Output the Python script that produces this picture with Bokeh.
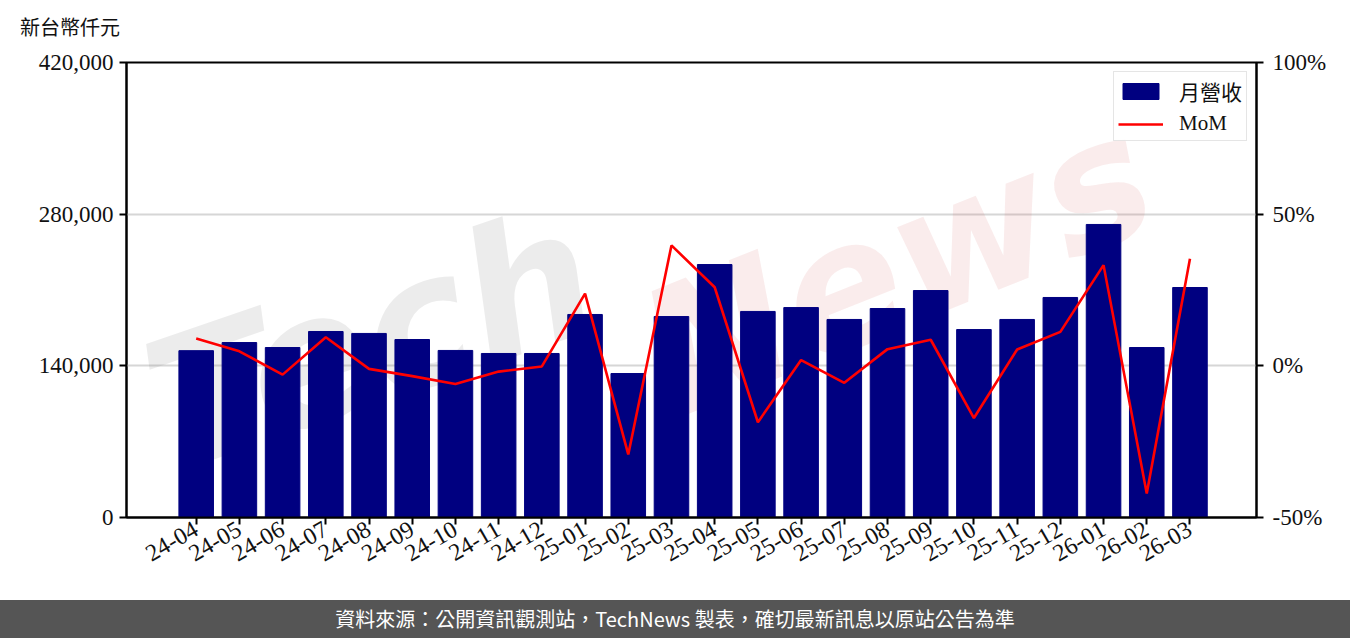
import math
from bokeh.plotting import figure
from bokeh.models import (ColumnDataSource, Range1d, LinearAxis, FixedTicker,
                          NumeralTickFormatter, PrintfTickFormatter, Label,
                          Legend, LegendItem, Div)
from bokeh.layouts import column
from bokeh.embed import file_html
from bokeh.resources import INLINE

months = ["24-04", "24-05", "24-06", "24-07", "24-08", "24-09", "24-10", "24-11",
          "24-12", "25-01", "25-02", "25-03", "25-04", "25-05", "25-06", "25-07",
          "25-08", "25-09", "25-10", "25-11", "25-12", "26-01", "26-02", "26-03"]
revenue = [154000, 161500, 156900, 171700, 169900, 164300, 154200, 151400,
           151400, 187400, 132900, 185500, 233500, 190200, 193800, 182800,
           192900, 209500, 173500, 182800, 203100, 270500, 156900, 212300]
mom = [9.0, 4.8, -2.9, 9.4, -1.0, -3.4, -6.0, -1.9,
       -0.2, 23.8, -29.2, 39.7, 25.9, -18.6, 1.9, -5.6,
       5.5, 8.6, -17.2, 5.4, 11.2, 33.2, -42.1, 35.3]
left_ticks = [0, 140000, 280000, 420000]
right_ticks = [-50, 0, 50, 100]
y_unit = "新台幣仟元"
bar_name = "月營收"
line_name = "MoM"
footer_text = "資料來源：公開資訊觀測站，TechNews 製表，確切最新訊息以原站公告為準"

idx = list(range(len(months)))
src = ColumnDataSource(dict(x=idx, rev=revenue, mom=mom))

SERIF = "Liberation Serif"
CJK = "Noto Sans CJK TC"
W = 1350

fig = figure(width=W, height=562, output_backend="svg", toolbar_location=None,
             x_range=Range1d(-1.613, 24.54), y_range=Range1d(0, 420000),
             min_border_left=126, min_border_right=94, min_border_top=24,
             min_border_bottom=83)
fig.extra_y_ranges = {"mom": Range1d(-50, 100)}

fig.outline_line_color = "black"
fig.outline_line_width = 2
fig.xgrid.visible = False
fig.ygrid.ticker = FixedTicker(ticks=left_ticks)
fig.ygrid.grid_line_color = "#d6d6d6"
fig.ygrid.grid_line_width = 2

# watermark (drawn beneath the bars)
wm1 = Label(x=245, y=178, x_units="screen", y_units="screen", text="Tech",
            angle=0.33, text_font="DejaVu Sans", text_font_size="180px",
            text_font_style="bold italic", text_color="#808080", text_alpha=0.15,
            text_align="center", text_baseline="middle", level="underlay")
wm2 = Label(x=770, y=252, x_units="screen", y_units="screen", text="News",
            angle=0.38, text_font="DejaVu Sans", text_font_size="175px",
            text_font_style="bold italic", text_color="#d05050", text_alpha=0.11,
            text_align="center", text_baseline="middle", level="underlay")
fig.add_layout(wm1)
fig.add_layout(wm2)

bars = fig.vbar(x="x", top="rev", width=0.8, source=src, color="#000080")
line = fig.line(x="x", y="mom", source=src, y_range_name="mom",
                line_color="#ff0000", line_width=2.6)

# axes
xa = fig.xaxis[0]
xa.ticker = FixedTicker(ticks=idx)
xa.major_label_overrides = {i: m for i, m in zip(idx, months)}
xa.major_label_orientation = math.pi / 6

ya = fig.yaxis[0]
ya.ticker = FixedTicker(ticks=left_ticks)
ya.formatter = NumeralTickFormatter(format="0,0")

ra = LinearAxis(y_range_name="mom", ticker=FixedTicker(ticks=right_ticks),
                formatter=PrintfTickFormatter(format="%d%%"))
fig.add_layout(ra, "right")

for ax in [xa, ya, ra]:
    ax.axis_line_width = 2
    ax.axis_line_color = "black"
    ax.major_tick_line_width = 2
    ax.major_tick_line_color = "black"
    ax.major_tick_out = 7
    ax.major_tick_in = 0
    ax.minor_tick_line_color = None
    ax.major_label_text_font = SERIF
    ax.major_label_text_font_size = "23px"
    ax.major_label_text_color = "#111111"
xa.major_label_text_font_size = "24px"
xa.major_label_standoff = 3
ya.major_label_standoff = 6
ra.major_label_standoff = 9

legend = Legend(items=[LegendItem(label=bar_name, renderers=[bars]),
                       LegendItem(label=line_name, renderers=[line])],
                location="top_right", margin=9, padding=4, spacing=5,
                glyph_width=45, glyph_height=20, label_standoff=16,
                label_text_font=SERIF + ", " + CJK, label_text_font_size="21px",
                label_text_color="#111111",
                border_line_color="#cccccc", border_line_width=1.5,
                background_fill_alpha=0.85)
fig.add_layout(legend)

unit_div = Div(text=('<div style="margin-top:17px; margin-left:20px; line-height:20px; '
                     'font-size:20px; color:#111111; font-family:\'Noto Sans CJK TC\';">'
                     + y_unit + '</div>'),
               width=W, height=38, margin=0)

footer = Div(text=('<div style="width:' + str(W) + 'px; height:38px; line-height:38px; '
                   'background-color:#555555; color:#ffffff; text-align:center; '
                   'font-size:20px; font-family:\'Noto Sans CJK TC\';">'
                   + footer_text + '</div>'),
             width=W, height=38, margin=0,
             styles={"background-color": "#555555"})

p = column(unit_div, fig, footer, spacing=0)

open("out.html", "w").write(file_html(p, INLINE))
